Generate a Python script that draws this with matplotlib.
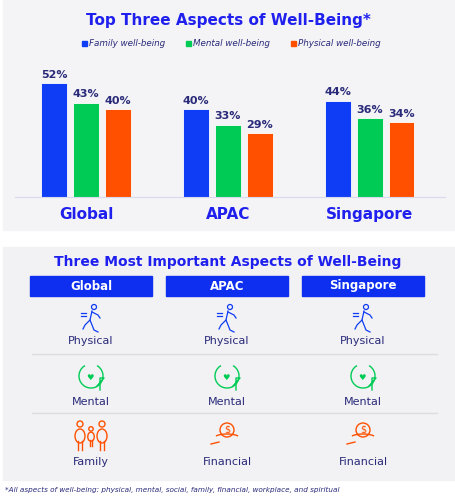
import matplotlib
matplotlib.use("Agg")
import matplotlib.pyplot as plt
from matplotlib.patches import Rectangle, Circle, Arc, Ellipse

regions = ["Global", "APAC", "Singapore"]
series = ["Family well-being", "Mental well-being", "Physical well-being"]
family_vals = [52, 40, 44]
mental_vals = [43, 33, 36]
physical_vals = [40, 29, 34]
colors = ["#0f3cf5", "#00cc55", "#ff5000"]

table_cols = ["Global", "APAC", "Singapore"]
table_rows = [["Physical", "Physical", "Physical"],
              ["Mental", "Mental", "Mental"],
              ["Family", "Financial", "Financial"]]
footnote = ("*All aspects of well-being: physical, mental, social, family, "
            "financial, workplace, and spiritual")

W, H = 456, 500
NAVY = "#2a2a7a"
BLUE = "#2020ee"

fig = plt.figure(figsize=(W / 100, H / 100), dpi=100)
fig.patch.set_facecolor("white")

# overlay in pixel coords
ov = fig.add_axes([0, 0, 1, 1])
ov.set_xlim(0, W)
ov.set_ylim(H, 0)
ov.axis("off")
ov.add_patch(Rectangle((3, 0), 453, 230, color="#f4f4f6", zorder=0))
ov.add_patch(Rectangle((3, 247), 453, 233, color="#f2f2f4", zorder=0))
ov.text(228, 20, "Top Three Aspects of Well-Being*", ha="center", va="center",
        color=BLUE, fontsize=11, fontweight="bold", family="Verdana" if False else "DejaVu Sans")

# legend
leg_x = [82, 186, 291]
for lx, name, c in zip(leg_x, series, colors):
    ov.add_patch(Rectangle((lx, 41), 5, 5, color=c))
    ov.text(lx + 7, 44, name, ha="left", va="center", fontsize=6.3,
            style="italic", color=NAVY)

# bar chart
base_px, top_px = 197, 197 - 114 * 60 / 52
ax = fig.add_axes([15 / W, (H - base_px) / H, 430 / W, (base_px - top_px) / H])
ax.patch.set_alpha(0)
ax.set_ylim(0, 60)
ax.set_xlim(-0.5, 2.5 + 0.03)
for k, (vals, c) in enumerate(zip([family_vals, mental_vals, physical_vals], colors)):
    xs = [i + (k - 1) * 0.225 for i in range(3)]
    ax.bar(xs, vals, width=0.18, color=c, edgecolor="white", linewidth=0.6)
    for x, v in zip(xs, vals):
        ax.text(x, v + 1.5, f"{v}%", ha="center", va="bottom", fontsize=8,
                fontweight="bold", color=NAVY)
ax.set_xticks(range(3))
ax.set_xticklabels(regions, fontsize=11, fontweight="bold", color=BLUE)
ax.tick_params(axis="x", length=0, pad=7)
ax.set_yticks([])
for s in ["top", "left", "right"]:
    ax.spines[s].set_visible(False)
ax.spines["bottom"].set_color("#d8d8ee")

# table
ov.text(228, 262, "Three Most Important Aspects of Well-Being", ha="center",
        va="center", color=BLUE, fontsize=10, fontweight="bold")
col_x = [91, 227, 363]
for cx, name in zip(col_x, table_cols):
    ov.add_patch(Rectangle((cx - 61, 276), 122, 20, color="#0f2ff0"))
    ov.text(cx, 286, name, ha="center", va="center", color="white",
            fontsize=8.5, fontweight="bold")
for yd in (354, 413):
    ov.plot([32, 437], [yd, yd], color="#dddddd", lw=1)

icon_y = [317, 377, 436]
label_y = [341, 402, 462]


def runner(x, y, c):
    ov.add_patch(Circle((x + 3, y - 10), 2.5, fill=False, ec=c, lw=0.9))
    ov.plot([x + 1, x - 1, x + 3, x + 7], [y - 6, y + 3, y + 13, y + 15], color=c, lw=0.9)
    ov.plot([x - 1, x - 6, x - 8], [y + 3, y + 8, y + 12], color=c, lw=0.9)
    ov.plot([x + 1, x + 7, x + 9], [y - 5, y - 2, y + 1], color=c, lw=0.9)
    for dy in (-4, -1):
        ov.plot([x - 10, x - 5], [y + dy, y + dy], color=c, lw=0.9)


def head(x, y, c):
    ov.add_patch(Arc((x, y - 1), 24, 24, theta1=-60, theta2=240, ec=c, lw=1.0))
    ov.plot([x + 6, x + 13, x + 9, x + 9], [y + 9, y + 1, y + 1, y + 13], color=c, lw=1.0)
    ov.text(x - 1, y, "\u2665", ha="center", va="center", color=c, fontsize=6)


def family(x, y, c):
    for dx, r, sc in ((-11, 3, 1.0), (11, 3, 1.0), (0, 2.2, 0.65)):
        cy = y - 12 + (1 - sc) * 14
        ov.add_patch(Circle((x + dx, cy), r, fill=False, ec=c, lw=1.0))
        ov.add_patch(Ellipse((x + dx, cy + 12 * sc), 10 * sc, 14 * sc, fill=False, ec=c, lw=1.0))
        ov.plot([x + dx - 2 * sc, x + dx - 2 * sc], [cy + 17 * sc, cy + 26 * sc], color=c, lw=1.0)
        ov.plot([x + dx + 2 * sc, x + dx + 2 * sc], [cy + 17 * sc, cy + 26 * sc], color=c, lw=1.0)


def money(x, y, c):
    ov.add_patch(Circle((x, y - 6), 7, fill=False, ec=c, lw=1.0))
    ov.text(x, y - 6, "$", ha="center", va="center", color=c, fontsize=7)
    ov.add_patch(Arc((x, y + 4), 30, 12, theta1=200, theta2=340, ec=c, lw=1.0))
    ov.plot([x - 16, x - 8], [y + 8, y + 6], color=c, lw=1.0)


for r, row in enumerate(table_rows):
    for cx, name in zip(col_x, row):
        if name == "Physical":
            runner(cx, icon_y[r], colors[0])
        elif name == "Mental":
            head(cx, icon_y[r], colors[1])
        elif name == "Family":
            family(cx, icon_y[r], colors[2])
        else:
            money(cx, icon_y[r], colors[2])
        ov.text(cx, label_y[r], name, ha="center", va="center", fontsize=8, color=NAVY)

ov.text(5, 490, footnote, ha="left", va="center", fontsize=5.2, style="italic",
        color=NAVY)

fig.savefig("out.png", dpi=100)
